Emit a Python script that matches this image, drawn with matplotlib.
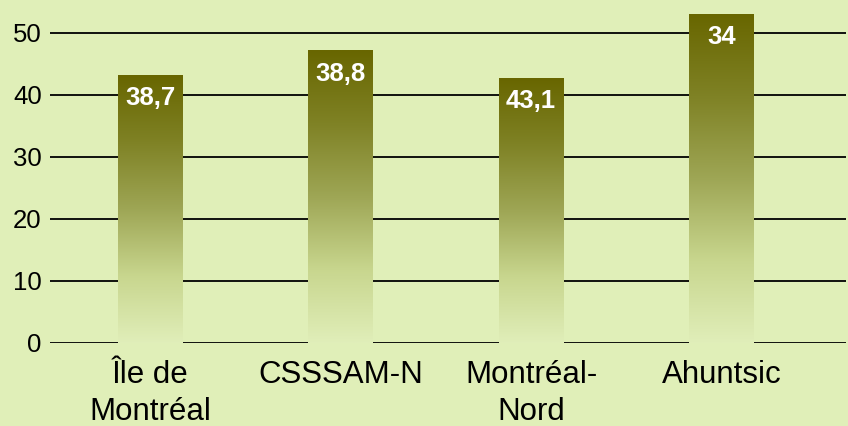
import numpy as np
import matplotlib
matplotlib.use("Agg")
import matplotlib.pyplot as plt
from matplotlib.colors import LinearSegmentedColormap

categories = ["Île de\nMontréal", "CSSSAM-N", "Montréal-\nNord", "Ahuntsic"]
heights = [43.2, 47.1, 42.7, 53.0]
valueLabels = ["38,7", "38,8", "43,1", "34"]
yTicks = [0, 10, 20, 30, 40, 50]

plt.rcParams["font.family"] = ["Liberation Sans", "DejaVu Sans"]

bgColor = "#e0efb8"
barCmap = LinearSegmentedColormap.from_list("olive", ["#e0eeb9", "#c8d68e", "#9ea655", "#7f8225", "#686600"])

fig = plt.figure(figsize=(8.48, 4.26), dpi=100, facecolor=bgColor)
axes = fig.add_axes([50 / 848, 1 - 343 / 426, 796 / 848, 343 / 426])
axes.set_facecolor(bgColor)

x = np.arange(len(categories))
barWidth = 0.34

for yv in yTicks:
    axes.axhline(yv, color="black", linewidth=1.3, zorder=1)

gradient = np.linspace(0, 1, 256).reshape(-1, 1)
for xi, h, lab in zip(x, heights, valueLabels):
    axes.imshow(gradient, cmap=barCmap, aspect="auto", origin="lower",
                extent=(xi - barWidth / 2, xi + barWidth / 2, 0, h), zorder=2)
    axes.annotate(lab, (xi, h), xytext=(0, -23), textcoords="offset pixels",
                  ha="center", va="center", color="white", fontsize=18.5,
                  fontweight="bold", zorder=3)

axes.set_xlim(-0.528, 3.654)
axes.set_ylim(0, 55.3)
axes.set_xticks(x)
axes.set_xticklabels(categories, fontsize=22.5, linespacing=1.3)
axes.set_yticks(yTicks)
axes.tick_params(axis="y", labelsize=18.5, length=0, pad=6)
axes.tick_params(axis="x", length=0, pad=12)
for spine in axes.spines.values():
    spine.set_visible(False)

fig.savefig("out.png", dpi=100, facecolor=bgColor)
